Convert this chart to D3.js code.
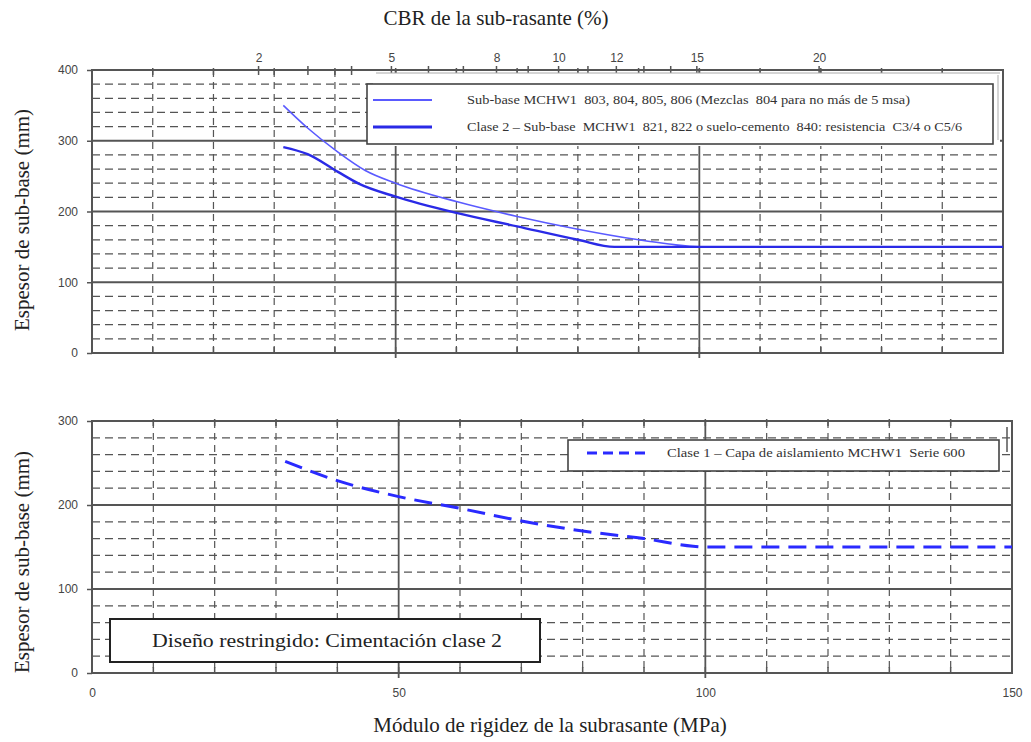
<!DOCTYPE html>
<html>
<head>
<meta charset="utf-8">
<script src="https://cdn.jsdelivr.net/npm/d3@7"></script>
<style>
    body { margin: 0; background: #fff; }
    #chart { width: 1031px; height: 742px; }
    text { white-space: pre; }
</style>
</head>
<body>
<div id="chart"></div>
<script>
// curves (x = MPa, y = mm)
var upperMpa = [31.5, 35.5, 40.5, 45, 50, 60, 70, 80, 90, 95, 100, 150];
var upperEsp = [350, 318, 284, 258, 240, 214, 193, 175, 160, 154, 150, 150];
var lowerMpa = [31.5, 35.5, 40.5, 44, 50, 60, 70, 80, 86, 90, 150];
var lowerEsp = [291, 281, 256, 239, 221, 198, 179, 160, 150, 150, 150];
var clase1Mpa = [31.5, 40, 50, 60, 70, 80, 90, 98, 100, 150];
var clase1Esp = [252, 229, 210, 196, 181, 169, 160, 151, 150, 150];

var cbrTicks = [2, 3, 4, 5, 6, 7, 8, 9, 10, 11, 12, 13, 14, 15, 20];
var cbrLabels = [2, 5, 8, 10, 12, 15, 20];
var topYTicks = [0, 100, 200, 300, 400];
var botYTicks = [0, 100, 200, 300];
var botXTicks = [0, 50, 100, 150];

var legendTop = [
    "Sub-base MCHW1  803, 804, 805, 806 (Mezclas  804 para no más de 5 msa)",
    "Clase 2 – Sub-base  MCHW1  821, 822 o suelo-cemento  840: resistencia  C3/4 o C5/6"
];
var legendBottom = "Clase 1 – Capa de aislamiento MCHW1  Serie 600";
var noteText = "Diseño restringido: Cimentación clase 2";

(function () {
    'use strict';

    var SERIF = "'Liberation Serif', 'Times New Roman', serif";
    var SANS = "'Liberation Sans', Arial, sans-serif";
    var GRID = "#555";

    // UK relation between CBR and stiffness modulus
    var cbrToMpa = function (c) { return 17.6 * Math.pow(c, 0.64); };

    var svg = d3.select("#chart").append("svg")
        .attr("width", 1031)
        .attr("height", 742)
        .style("background", "#fff");

    var xTop = d3.scaleLinear().domain([0, 150]).range([92, 1003]);
    var yTop = d3.scaleLinear().domain([0, 400]).range([353, 70]);
    var xBot = d3.scaleLinear().domain([0, 150]).range([92, 1012]);
    var yBot = d3.scaleLinear().domain([0, 300]).range([673, 421]);

    var drawGrid = function (g, x, y, yMax) {
        var x0 = x.range()[0], x1 = x.range()[1];
        var y0 = y.range()[0], y1 = y.range()[1];
        d3.range(10, 150, 10).forEach(function (v) {
            var solid = v % 50 === 0;
            g.append("line")
                .attr("x1", x(v)).attr("x2", x(v))
                .attr("y1", y1).attr("y2", solid ? y0 + 5 : y0)
                .attr("stroke", GRID)
                .attr("stroke-width", solid ? 1.8 : 1.2)
                .attr("stroke-dasharray", solid ? null : "7,5");
            // small tick marks along top and bottom
            g.append("line")
                .attr("x1", x(v)).attr("x2", x(v))
                .attr("y1", y1 - 2).attr("y2", y1 + 5)
                .attr("stroke", GRID).attr("stroke-width", 1.5);
            g.append("line")
                .attr("x1", x(v)).attr("x2", x(v))
                .attr("y1", y0 - 6).attr("y2", y0)
                .attr("stroke", GRID).attr("stroke-width", 1.5);
        });
        d3.range(20, yMax, 20).forEach(function (v) {
            var solid = v % 100 === 0;
            g.append("line")
                .attr("x1", x0).attr("x2", x1)
                .attr("y1", y(v)).attr("y2", y(v))
                .attr("stroke", GRID)
                .attr("stroke-width", solid ? 1.8 : 1.2)
                .attr("stroke-dasharray", solid ? null : "8,5");
        });
        g.append("rect")
            .attr("x", x0).attr("y", y1)
            .attr("width", x1 - x0).attr("height", y0 - y1)
            .attr("fill", "none")
            .attr("stroke", GRID)
            .attr("stroke-width", 2);
    };

    var styleAxis = function (g) {
        g.select(".domain").remove();
        g.selectAll(".tick line").attr("stroke", GRID).attr("stroke-width", 1.5);
        g.selectAll("text")
            .attr("font-family", SANS)
            .attr("font-size", 12)
            .attr("fill", "#444");
    };

    var line = function (x, y) {
        return d3.line()
            .x(function (d) { return x(d[0]); })
            .y(function (d) { return y(d[1]); })
            .curve(d3.curveMonotoneX);
    };

    // ---------- top panel ----------
    var top = svg.append("g");
    drawGrid(top, xTop, yTop, 400);

    top.append("g")
        .attr("transform", "translate(92,0)")
        .call(d3.axisLeft(yTop).tickValues(topYTicks).tickSize(5).tickPadding(9))
        .call(styleAxis);

    // CBR axis on top
    cbrTicks.forEach(function (c) {
        top.append("line")
            .attr("x1", xTop(cbrToMpa(c))).attr("x2", xTop(cbrToMpa(c)))
            .attr("y1", 66).attr("y2", 75)
            .attr("stroke", GRID).attr("stroke-width", 1.5);
    });
    top.append("g")
        .attr("transform", "translate(0,70)")
        .call(d3.axisTop(xTop)
            .tickValues(cbrLabels.map(cbrToMpa))
            .tickFormat(function (d, i) { return cbrLabels[i]; })
            .tickSize(0).tickPadding(8))
        .call(styleAxis);

    var upper = upperMpa.map(function (m, i) { return [m, upperEsp[i]]; });
    var lower = lowerMpa.map(function (m, i) { return [m, lowerEsp[i]]; });
    top.append("path")
        .attr("d", line(xTop, yTop)(upper))
        .attr("fill", "none")
        .attr("stroke", "#5a5aff")
        .attr("stroke-width", 1.6);
    top.append("path")
        .attr("d", line(xTop, yTop)(lower))
        .attr("fill", "none")
        .attr("stroke", "#2a2ae6")
        .attr("stroke-width", 2.4);

    // legend (white panel over grid)
    top.append("rect")
        .attr("x", 376).attr("y", 73)
        .attr("width", 624).attr("height", 73)
        .attr("fill", "#fff");
    top.append("line")
        .attr("x1", 376).attr("x2", 1000).attr("y1", 73).attr("y2", 73)
        .attr("stroke", "#aaa").attr("stroke-width", 1);
    top.append("line")
        .attr("x1", 998).attr("x2", 998).attr("y1", 75).attr("y2", 140)
        .attr("stroke", "#bbb").attr("stroke-width", 1.2);
    top.append("rect")
        .attr("x", 367).attr("y", 84)
        .attr("width", 626).attr("height", 60)
        .attr("fill", "#fff")
        .attr("stroke", "#444")
        .attr("stroke-width", 1.6);
    var legColors = ["#5a5aff", "#2a2ae6"];
    var legWidths = [2.2, 3.2];
    var legText = [443, 495];
    legendTop.forEach(function (t, i) {
        var yy = 100 + i * 27;
        top.append("line")
            .attr("x1", 373).attr("x2", 432)
            .attr("y1", yy).attr("y2", yy)
            .attr("stroke", legColors[i])
            .attr("stroke-width", legWidths[i]);
        top.append("text")
            .attr("x", 467).attr("y", yy + 4)
            .attr("font-family", SERIF)
            .attr("font-size", 12)
            .attr("fill", "#333")
            .attr("textLength", legText[i])
            .attr("lengthAdjust", "spacingAndGlyphs")
            .text(t);
    });

    // ---------- bottom panel ----------
    var bot = svg.append("g");
    drawGrid(bot, xBot, yBot, 300);

    bot.append("g")
        .attr("transform", "translate(92,0)")
        .call(d3.axisLeft(yBot).tickValues(botYTicks).tickSize(5).tickPadding(9))
        .call(styleAxis);
    bot.append("g")
        .attr("transform", "translate(0,673)")
        .call(d3.axisBottom(xBot).tickValues(botXTicks).tickSize(0).tickPadding(15))
        .call(styleAxis);

    var clase1 = clase1Mpa.map(function (m, i) { return [m, clase1Esp[i]]; });
    bot.append("path")
        .attr("d", line(xBot, yBot)(clase1))
        .attr("fill", "none")
        .attr("stroke", "#2a2aff")
        .attr("stroke-width", 3)
        .attr("stroke-dasharray", "18,9");

    // small mark at the right edge
    bot.append("line")
        .attr("x1", 1007).attr("x2", 1007).attr("y1", 427).attr("y2", 452)
        .attr("stroke", GRID).attr("stroke-width", 1.5);

    bot.append("rect")
        .attr("x", 568).attr("y", 440)
        .attr("width", 431).attr("height", 31)
        .attr("fill", "#fff")
        .attr("stroke", "#444")
        .attr("stroke-width", 1.6);
    bot.append("line")
        .attr("x1", 587).attr("x2", 645)
        .attr("y1", 453).attr("y2", 453)
        .attr("stroke", "#2a2aff")
        .attr("stroke-width", 3)
        .attr("stroke-dasharray", "10,6");
    bot.append("text")
        .attr("x", 667).attr("y", 457)
        .attr("font-family", SERIF)
        .attr("font-size", 12)
        .attr("fill", "#333")
        .attr("textLength", 298)
        .attr("lengthAdjust", "spacingAndGlyphs")
        .text(legendBottom);

    bot.append("rect")
        .attr("x", 110).attr("y", 619)
        .attr("width", 430).attr("height", 43)
        .attr("fill", "#fff")
        .attr("stroke", "#222")
        .attr("stroke-width", 2);
    bot.append("text")
        .attr("x", 152).attr("y", 647)
        .attr("font-family", SERIF)
        .attr("font-size", 19)
        .attr("fill", "#222")
        .attr("textLength", 350)
        .attr("lengthAdjust", "spacingAndGlyphs")
        .text(noteText);

    // ---------- titles ----------
    svg.append("text")
        .attr("x", 496).attr("y", 25)
        .attr("text-anchor", "middle")
        .attr("font-family", SERIF)
        .attr("font-size", 21)
        .attr("fill", "#222")
        .text("CBR de la sub-rasante (%)");
    svg.append("text")
        .attr("x", 550).attr("y", 732)
        .attr("text-anchor", "middle")
        .attr("font-family", SERIF)
        .attr("font-size", 21)
        .attr("fill", "#222")
        .text("Módulo de rigidez de la subrasante (MPa)");
    [220, 562].forEach(function (cy) {
        svg.append("text")
            .attr("transform", "translate(29," + cy + ") rotate(-90)")
            .attr("text-anchor", "middle")
            .attr("font-family", SERIF)
            .attr("font-size", 21)
            .attr("fill", "#222")
            .text("Espesor de sub-base (mm)");
    });
}());
</script>
</body>
</html>
